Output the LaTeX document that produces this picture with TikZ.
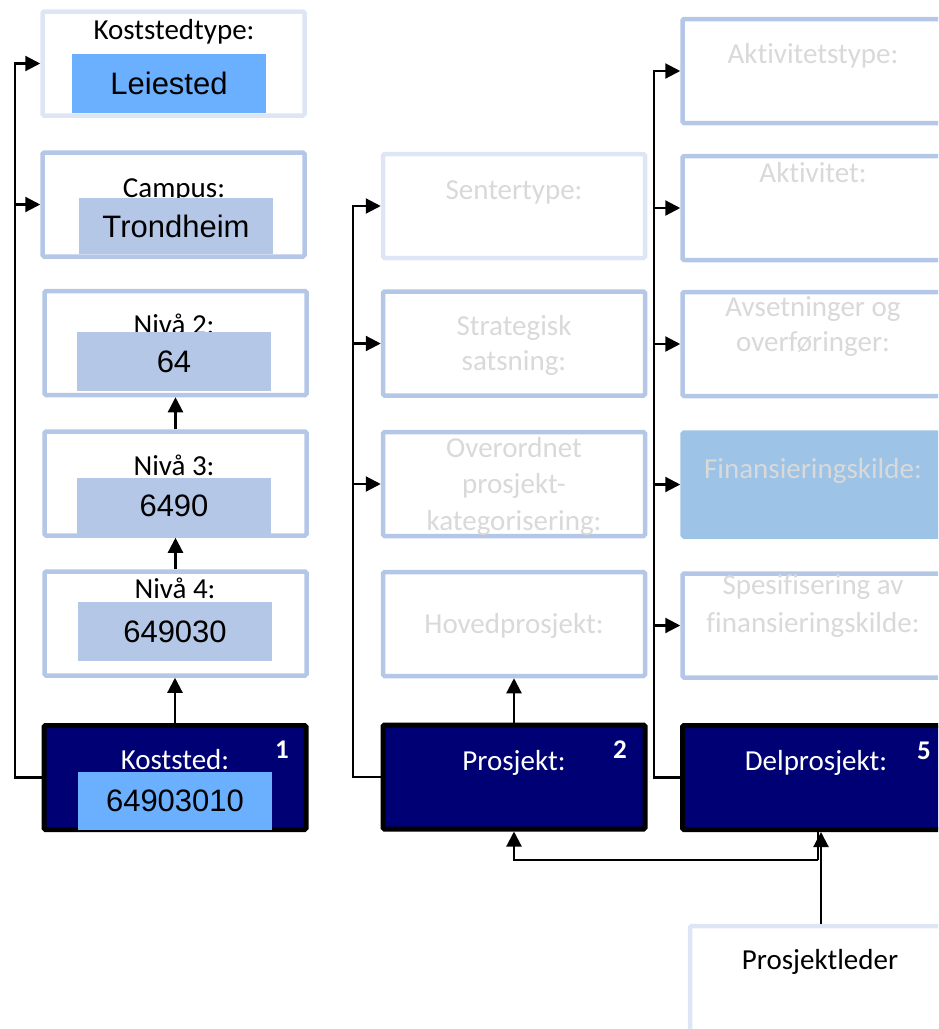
\documentclass[tikz,border=0pt]{standalone}
\usepackage{fontspec}
\setmainfont{Carlito}[Ligatures=NoCommon]
\newfontfamily\arialf{Liberation Sans}
\usetikzlibrary{arrows.meta}
\definecolor{navy}{RGB}{0,0,117}
\definecolor{bordermid}{RGB}{180,199,231}
\definecolor{borderlight}{RGB}{222,230,245}
\definecolor{valblue}{RGB}{106,176,255}
\definecolor{finfill}{RGB}{157,195,230}
\definecolor{graytext}{RGB}{217,217,217}
\begin{document}
\begin{tikzpicture}[x=1pt,y=-1pt,
  box/.style={draw=bordermid, line width=4.5pt, rounded corners=1.5pt, fill=white,
    minimum width=262pt, minimum height=104pt, inner sep=0pt},
  lightbox/.style={box, draw=borderlight},
  darkbox/.style={box, draw=black, fill=navy, line width=5pt},
  finbox/.style={box, draw=finfill, fill=finfill},
  val/.style={fill=bordermid, minimum width=194pt, inner sep=0pt,
    font=\arialf\fontsize{31}{36}\selectfont},
  valb/.style={val, fill=valblue},
  lbl/.style={anchor=base, inner sep=0pt, font=\fontsize{29}{35}\selectfont},
  glbl/.style={lbl, text=graytext},
  wlbl/.style={lbl, text=white},
  num/.style={anchor=base, inner sep=0pt, text=white, font=\bfseries\fontsize{27}{30}\selectfont},
  conn/.style={line width=2.2pt},
  arr/.style={conn, -{Triangle[length=15pt,width=15pt]}}]
\useasboundingbox (0,0) rectangle (938,1029);
\clip (0,0) rectangle (938,1029);

% ---------- left column ----------
\node[lightbox] (kt) at (173.5,63.5) {};
\node[lbl] (ktl) at (174,39) {Koststedtype:};
\node[valb, minimum height=59pt] (ktv) at (169,83.5) {Leiested};

\node[box] (ca) at (173.5,204.5) {};
\node[lbl] (cal) at (174,197) {Campus:};
\node[val, minimum height=56pt] (cav) at (176,226) {Trondheim};

\node[box] (n2) at (175.5,343) {};
\node[lbl] (n2l) at (174,334) {Nivå 2:};
\node[val, minimum height=59pt] (n2v) at (174,361.5) {64};

\node[box] (n3) at (175.5,483.5) {};
\node[lbl] (n3l) at (174,475) {Nivå 3:};
\node[val, minimum height=56pt] (n3v) at (174,506) {6490};

\node[box] (n4) at (175.5,623.5) {};
\node[lbl] (n4l) at (175,598) {Nivå 4:};
\node[val, minimum height=59pt] (n4v) at (175,631.5) {649030};

\node[darkbox] (ks) at (175,777.5) {};
\node[wlbl] (ksl) at (175,769) {Koststed:};
\node[valb, minimum height=58pt] (ksv) at (175,800.5) {64903010};
\node[num] (ksn) at (282,758) {1};

% ---------- middle column ----------
\node[lightbox] (st) at (514,206) {};
\node[glbl] (stl) at (514,199) {Sentertype:};

\node[box] (ss) at (514,343.5) {};
\node[glbl] (ssl1) at (514,335) {Strategisk};
\node[glbl] (ssl2) at (514,370) {satsning:};

\node[box] (ov) at (514,484) {};
\node[glbl] (ovl1) at (514,457) {Overordnet};
\node[glbl] (ovl2) at (514,493) {prosjekt-};
\node[glbl] (ovl3) at (514,530) {kategorisering:};

\node[box] (hp) at (514,624) {};
\node[glbl] (hpl) at (514,633) {Hovedprosjekt:};

\node[darkbox] (pr) at (514,777) {};
\node[wlbl] (prl) at (514,770) {Prosjekt:};
\node[num] (prn) at (620,758) {2};

% ---------- right column ----------
\node[box] (at) at (813.5,71) {};
\node[glbl] (atl) at (813,63) {Aktivitetstype:};

\node[box] (ak) at (813.5,208) {};
\node[glbl] (akl) at (813,182) {Aktivitet:};

\node[box] (av) at (813.5,344) {};
\node[glbl] (avl1) at (813,316) {Avsetninger og};
\node[glbl] (avl2) at (813,351) {overføringer:};

\node[finbox] (fk) at (813.5,484.5) {};
\node[glbl] (fkl) at (813,478) {Finansieringskilde:};

\node[box] (sp) at (813.5,625.5) {};
\node[glbl] (spl1) at (813,594) {Spesifisering av};
\node[glbl] (spl2) at (813,632) {finansieringskilde:};

\node[darkbox] (dp) at (813.5,777.5) {};
\node[wlbl] (dpl) at (816,770) {Delprosjekt:};
\node[num] (dpn) at (924,759) {5};

\node[lightbox, minimum height=112pt] (pl) at (821,982) {};
\node[lbl] (pll) at (820,969) {Prosjektleder};

% ---------- connectors: left ----------
\coordinate (lt) at (15,0);
\draw[arr] (ks.west) -| (lt |- kt.west) -- (kt.west);
\draw[arr] (lt |- ca.west) -- (ca.west);
\draw[arr] (ks.north) -- (ks.north |- n4.south);
\draw[arr] (n4.north) -- (n4.north |- n3.south);
\draw[arr] (n3.north) -- (n3.north |- n2.south);

% ---------- connectors: middle ----------
\coordinate (mt) at (353,0);
\draw[arr] (pr.west) -| (mt |- st.west) -- (st.west);
\draw[arr] (mt |- ss.west) -- (ss.west);
\draw[arr] (mt |- ov.west) -- (ov.west);
\draw[arr] (pr.north) -- (hp.south);

% ---------- connectors: right ----------
\coordinate (rt) at (654,0);
\draw[arr] (dp.west) -| (rt |- at.west) -- (at.west);
\draw[arr] (rt |- ak.west) -- (ak.west);
\draw[arr] (rt |- av.west) -- (av.west);
\draw[arr] (rt |- fk.west) -- (fk.west);
\draw[arr] (rt |- sp.west) -- (sp.west);

% ---------- bottom ----------
\draw[arr] (pl.north) -- (pl.north |- dp.south);
\coordinate (j) at (818,860);
\draw[conn] (j) -- (j |- dp.south);
\draw[arr] (j) -| (pr.south);
\end{tikzpicture}
\end{document}
